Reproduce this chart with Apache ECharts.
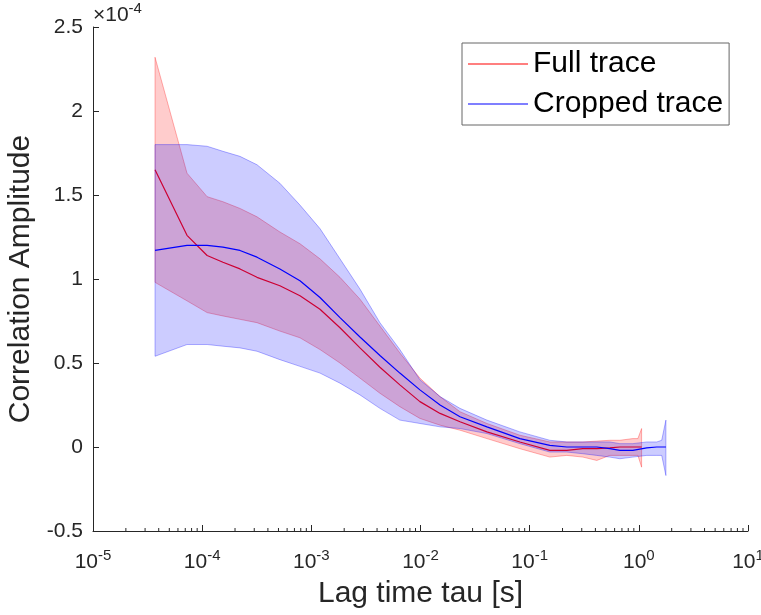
<!DOCTYPE html>
<html><head><meta charset="utf-8">
<script src="https://cdn.jsdelivr.net/npm/echarts@6/dist/echarts.min.js"></script>
<style>html,body{margin:0;padding:0;background:#fff}#c{width:761px;height:615px}</style>
</head><body><div id="c"></div>
<script>
// Lag times (s) and correlation amplitudes (units of 1e-4)
const tauFull = [3.70e-5, 7.26e-5, 1.11e-4, 1.55e-4, 2.22e-4, 3.18e-4, 5.15e-4, 7.87e-4, 1.20e-3, 1.83e-3, 2.79e-3, 4.25e-3, 6.47e-3, 9.88e-3, 1.51e-2, 2.30e-2, 4.06e-2, 8.13e-2, 0.153, 0.219, 0.307, 0.412, 0.542, 0.670, 0.881, 0.98, 1.06];
const meanFull = [1.65, 1.26, 1.14, 1.10, 1.06, 1.01, 0.96, 0.90, 0.82, 0.71, 0.59, 0.475, 0.37, 0.27, 0.20, 0.15, 0.09, 0.03, -0.02, -0.02, -0.01, -0.01, -0.005, 0.0, 0.0, 0.0, 0.0];
const upperFull = [2.32, 1.63, 1.49, 1.46, 1.42, 1.37, 1.28, 1.21, 1.12, 1.01, 0.88, 0.72, 0.56, 0.41, 0.30, 0.21, 0.14, 0.07, 0.03, 0.03, 0.03, 0.035, 0.04, 0.04, 0.05, 0.05, 0.11];
const lowerFull = [0.98, 0.87, 0.80, 0.78, 0.76, 0.74, 0.69, 0.65, 0.58, 0.50, 0.41, 0.32, 0.24, 0.17, 0.13, 0.10, 0.05, -0.01, -0.06, -0.05, -0.06, -0.08, -0.05, -0.05, -0.05, -0.05, -0.12];

const tauCropped = [3.70e-5, 7.26e-5, 1.11e-4, 1.55e-4, 2.22e-4, 3.18e-4, 5.15e-4, 7.87e-4, 1.20e-3, 1.83e-3, 2.79e-3, 4.25e-3, 6.47e-3, 9.88e-3, 1.51e-2, 2.30e-2, 4.06e-2, 8.13e-2, 0.153, 0.219, 0.307, 0.412, 0.542, 0.670, 0.881, 1.18, 1.46, 1.62, 1.77];
const meanCropped = [1.17, 1.20, 1.20, 1.19, 1.17, 1.13, 1.06, 0.99, 0.89, 0.77, 0.655, 0.545, 0.44, 0.34, 0.25, 0.18, 0.12, 0.05, 0.01, 0.0, 0.0, 0.0, -0.01, -0.02, -0.02, -0.005, 0.0, 0.0, 0.0];
const upperCropped = [1.80, 1.80, 1.79, 1.76, 1.73, 1.68, 1.57, 1.44, 1.30, 1.12, 0.94, 0.74, 0.58, 0.40, 0.30, 0.23, 0.16, 0.09, 0.04, 0.03, 0.03, 0.03, 0.03, 0.02, 0.02, 0.03, 0.03, 0.04, 0.16];
const lowerCropped = [0.54, 0.61, 0.61, 0.60, 0.59, 0.57, 0.52, 0.48, 0.44, 0.38, 0.31, 0.23, 0.16, 0.14, 0.12, 0.11, 0.08, 0.02, -0.03, -0.03, -0.04, -0.05, -0.06, -0.07, -0.06, -0.05, -0.05, -0.05, -0.17];

const seriesNames = ['Full trace', 'Cropped trace'];
const xDecades = [-5, -4, -3, -2, -1, 0, 1];
const yMin = -0.5, yMax = 2.5, yStep = 0.5;

const minorTicks = [];
for (let e = xDecades[0]; e < xDecades[xDecades.length - 1]; e++) {
  for (let k = 2; k <= 9; k++) minorTicks.push(k * Math.pow(10, e));
}

const AX = '#262626';
const FONT = '"Liberation Sans", Arial, Helvetica, sans-serif';

function bandSeries(name, tau, lo, hi, fill, stroke, z) {
  return {
    type: 'custom', name: name, coordinateSystem: 'cartesian2d', z: z, silent: true,
    data: tau.map((t, i) => [t, lo[i], hi[i]]),
    encode: { x: 0, y: [1, 2] },
    renderItem: function (params, api) {
      if (params.dataIndex !== 0) return null;
      const pts = [];
      for (let i = 0; i < tau.length; i++) pts.push(api.coord([tau[i], hi[i]]));
      for (let i = tau.length - 1; i >= 0; i--) pts.push(api.coord([tau[i], lo[i]]));
      return { type: 'polygon', shape: { points: pts }, style: { fill: fill, stroke: stroke, lineWidth: 1 } };
    }
  };
}

const chart = echarts.init(document.getElementById('c'), null, { renderer: 'canvas' });
chart.setOption({
  animation: false,
  backgroundColor: '#fff',
  textStyle: { fontFamily: FONT },
  grid: { left: 93, right: 13, top: 27, bottom: 84, outerBoundsMode: 'none', containLabel: false },
  legend: {
    data: seriesNames, orient: 'vertical', left: 462, top: 43,
    icon: 'rect', itemWidth: 60, itemHeight: 1.2, itemGap: 10,
    padding: [6, 6, 6, 6], borderColor: '#666', borderWidth: 1, backgroundColor: '#fff',
    textStyle: { fontSize: 30, color: '#000', fontFamily: FONT },
    inactiveColor: '#ccc'
  },
  graphic: [{
    type: 'text', left: 93, top: 1, z: 100,
    style: {
      text: '{x|×10}{s|-4}',
      rich: {
        x: { fontSize: 21, fill: AX, fontFamily: FONT, verticalAlign: 'bottom' },
        s: { fontSize: 15, fill: AX, fontFamily: FONT, verticalAlign: 'bottom', padding: [0, 0, 10, 0] }
      }
    }
  }],
  xAxis: {
    type: 'log', logBase: 10, min: 1e-5, max: 10, splitNumber: 6,
    name: 'Lag time tau [s]', nameLocation: 'middle', nameGap: 48,
    nameTextStyle: { fontSize: 30, color: AX, fontFamily: FONT },
    axisLine: { show: true, onZero: false, lineStyle: { color: AX, width: 1 } },
    axisTick: { show: true, inside: true, length: 6, lineStyle: { color: AX } },
    splitLine: { show: false },
    axisLabel: {
      margin: 17, color: AX,
      formatter: function (v) { return '{b|10}{s|' + Math.round(Math.log10(v)) + '}'; },
      rich: {
        b: { fontSize: 21, color: AX, fontFamily: FONT, verticalAlign: 'bottom' },
        s: { fontSize: 15, color: AX, fontFamily: FONT, verticalAlign: 'bottom', padding: [0, 0, 10, 0] }
      }
    }
  },
  yAxis: {
    type: 'value', min: yMin, max: yMax, interval: yStep,
    name: 'Correlation Amplitude', nameLocation: 'middle', nameGap: 49,
    nameTextStyle: { fontSize: 30, color: AX, fontFamily: FONT },
    axisLine: { show: true, onZero: false, lineStyle: { color: AX, width: 1 } },
    axisTick: { show: true, inside: true, length: 6, lineStyle: { color: AX } },
    splitLine: { show: false },
    axisLabel: { fontSize: 21, color: AX, margin: 10, fontFamily: FONT }
  },
  series: [
    bandSeries('Full band', tauFull, lowerFull, upperFull, 'rgba(255,0,0,0.2)', 'rgba(255,0,0,0.3)', 1),
    {
      type: 'line', name: seriesNames[0], z: 2, symbol: 'none', showSymbol: false,
      color: '#ff0000', lineStyle: { color: '#ff0000', width: 1.2 },
      data: tauFull.map((t, i) => [t, meanFull[i]])
    },
    bandSeries('Cropped band', tauCropped, lowerCropped, upperCropped, 'rgba(0,0,255,0.2)', 'rgba(0,0,255,0.3)', 3),
    {
      type: 'line', name: seriesNames[1], z: 4, symbol: 'none', showSymbol: false,
      color: '#0000ff', lineStyle: { color: '#0000ff', width: 1.2 },
      data: tauCropped.map((t, i) => [t, meanCropped[i]])
    },
    {
      type: 'custom', name: 'minor ticks', coordinateSystem: 'cartesian2d', z: 5, silent: true,
      data: minorTicks.map(v => [v, yMin]),
      renderItem: function (params, api) {
        const p = api.coord([api.value(0), yMin]);
        return { type: 'line', shape: { x1: p[0], y1: p[1], x2: p[0], y2: p[1] - 3 }, style: { stroke: AX, lineWidth: 1 } };
      }
    }
  ]
});
</script>
</body></html>
